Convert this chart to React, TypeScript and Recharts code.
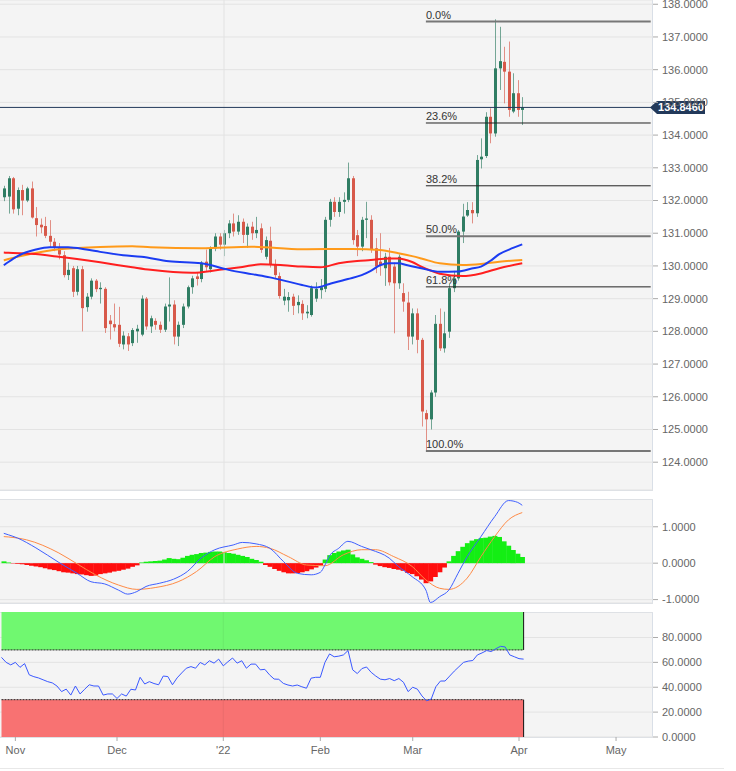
import React from "react";
import {
  ComposedChart,
  Bar,
  Line,
  XAxis,
  YAxis,
  CartesianGrid,
  ReferenceLine,
  ReferenceArea,
  Cell,
} from "recharts";

const FONT = '"Liberation Sans", Arial, sans-serif';

// trading sessions (weekdays) starting 2021-10-27, incl. empty future sessions
const firstSession = "2021-10-27";
const sessionCount = 142;

function weekdays(start: string, n: number): string[] {
  const out: string[] = [];
  const d = new Date(start + "T00:00:00Z");
  while (out.length < n) {
    const wd = d.getUTCDay();
    if (wd !== 0 && wd !== 6) out.push(d.toISOString().slice(0, 10));
    d.setUTCDate(d.getUTCDate() + 1);
  }
  return out;
}
const dates = weekdays(firstSession, sessionCount);

const monthTicks = ["2021-11-01", "2021-12-01", "2022-01-03", "2022-02-01", "2022-03-01", "2022-04-01", "2022-05-02"];
const monthLabels = ["Nov", "Dec", "'22", "Feb", "Mar", "Apr", "May"];

const priceTicks = [124, 125, 126, 127, 128, 129, 130, 131, 132, 133, 134, 135, 136, 137, 138];
const macdTicks = [-1, 0, 1];
const rsiTicks = [0, 20, 40, 60, 80];

// open, high, low, close
const ohlc: [number, number, number, number][] = [
  [132.1, 132.45, 131.98, 132.37], [132.12, 132.75, 131.6, 132.68], [132.68, 132.72, 131.6, 131.73],
  [131.75, 132.4, 131.55, 132.32], [132.32, 132.48, 131.55, 132.0], [132.0, 132.42, 131.95, 132.37],
  [132.37, 132.58, 131.45, 131.48], [131.46, 131.8, 130.9, 131.25], [131.26, 131.45, 131.0, 131.18],
  [131.22, 131.5, 130.85, 130.92], [130.92, 131.4, 130.55, 130.74], [130.74, 130.85, 130.45, 130.57],
  [130.57, 130.7, 130.2, 130.35], [130.33, 130.45, 129.65, 129.72], [129.72, 130.1, 129.57, 129.88],
  [129.93, 130.0, 129.05, 129.21], [129.21, 130.0, 129.1, 129.9], [129.9, 130.0, 128.0, 128.71],
  [128.74, 129.17, 128.6, 129.06], [129.06, 129.62, 128.98, 129.55], [129.55, 129.6, 129.2, 129.29],
  [129.29, 129.5, 128.85, 129.33], [129.3, 129.35, 127.95, 128.1], [128.33, 128.5, 127.75, 128.22],
  [128.22, 128.85, 128.0, 128.12], [128.2, 128.75, 127.52, 127.62], [127.6, 128.0, 127.45, 127.87],
  [127.85, 127.95, 127.4, 127.6], [127.64, 128.1, 127.55, 128.04], [128.0, 128.2, 127.65, 128.08],
  [127.9, 129.1, 127.85, 129.0], [129.0, 129.05, 128.05, 128.15], [128.15, 128.48, 127.95, 128.4],
  [128.32, 128.4, 128.05, 128.2], [128.2, 128.3, 127.95, 128.05], [128.05, 128.85, 127.98, 128.76],
  [128.76, 129.65, 128.3, 128.82], [128.82, 128.95, 127.6, 127.84], [127.84, 128.3, 127.55, 128.2],
  [128.2, 128.85, 128.1, 128.76], [128.76, 129.4, 128.7, 129.35], [129.35, 129.7, 129.15, 129.62],
  [129.68, 129.8, 129.4, 129.6], [129.6, 130.15, 129.5, 130.1], [130.13, 130.5, 129.85, 129.96],
  [129.9, 130.6, 129.8, 130.54], [130.54, 131.0, 130.45, 130.9], [130.9, 131.0, 130.5, 130.65],
  [130.65, 131.1, 130.3, 131.0], [131.0, 131.4, 130.85, 131.3], [131.3, 131.6, 130.9, 131.05],
  [131.05, 131.55, 130.95, 131.35], [131.35, 131.45, 130.7, 130.95], [130.95, 131.3, 130.55, 131.2],
  [131.2, 131.35, 130.8, 131.0], [131.0, 131.5, 130.85, 131.1], [131.15, 131.3, 130.4, 130.49],
  [130.28, 130.9, 130.2, 130.79], [130.77, 131.2, 129.95, 130.03], [130.03, 130.2, 129.6, 129.72],
  [129.69, 129.8, 129.0, 129.08], [128.94, 129.3, 128.8, 129.06], [128.95, 129.2, 128.6, 129.05],
  [129.06, 129.15, 128.5, 128.78], [128.8, 129.1, 128.55, 128.9], [128.84, 128.95, 128.35, 128.55],
  [128.55, 128.8, 128.4, 128.6], [128.5, 129.4, 128.45, 129.32], [129.0, 129.5, 128.9, 129.3],
  [129.26, 129.6, 129.0, 129.35], [129.3, 131.5, 129.2, 131.41], [131.41, 132.05, 131.2, 131.96],
  [131.96, 132.1, 131.5, 131.65], [131.65, 132.1, 131.5, 131.96], [131.96, 132.25, 131.6, 132.02],
  [132.02, 133.16, 131.95, 132.68], [132.68, 132.75, 130.65, 130.79], [130.94, 131.1, 130.3, 130.59],
  [130.59, 131.5, 130.45, 131.41], [131.41, 131.96, 130.85, 131.45], [131.41, 131.55, 130.4, 130.49],
  [130.54, 130.85, 129.78, 129.98], [130.13, 131.0, 129.7, 130.03], [129.93, 130.4, 129.39, 130.28],
  [130.28, 130.55, 129.4, 129.5], [129.98, 130.1, 127.94, 129.47], [129.47, 130.35, 129.3, 130.28],
  [129.17, 129.47, 128.6, 128.91], [128.88, 129.21, 127.43, 127.84], [127.84, 128.7, 127.6, 128.55],
  [128.55, 128.7, 127.33, 127.74], [127.74, 127.8, 125.09, 125.55], [125.5, 125.6, 124.34, 125.31],
  [125.31, 126.2, 125.0, 126.13], [126.13, 128.5, 126.0, 128.23], [128.23, 128.7, 127.4, 127.48],
  [127.48, 128.6, 127.35, 127.94], [127.99, 129.45, 127.8, 129.32], [129.32, 129.85, 129.2, 129.62],
  [129.62, 131.1, 129.55, 131.05], [131.05, 131.9, 130.7, 131.51], [131.54, 131.95, 131.5, 131.71],
  [131.71, 131.95, 131.3, 131.61], [131.61, 133.39, 131.5, 133.24], [133.26, 133.9, 132.98, 133.34],
  [133.36, 134.7, 133.3, 134.56], [134.56, 134.82, 133.75, 134.05], [134.05, 137.54, 133.95, 136.04],
  [136.04, 137.31, 135.38, 136.26], [136.24, 136.7, 134.97, 135.94], [135.94, 136.86, 134.56, 134.77],
  [134.72, 135.89, 134.67, 135.28], [135.28, 135.68, 134.56, 134.77], [134.77, 135.16, 134.31, 134.846],
];

const lastPrice = 134.846;

// moving averages, [session index, value]
const blueMa: [number, number][] = [
  [0, 130.02], [1, 130.12], [3, 130.3], [7, 130.5], [10, 130.57], [14, 130.57], [18, 130.5], [21, 130.43],
  [26, 130.33], [30, 130.28], [36, 130.14], [43, 130.08], [49, 129.88], [54, 129.75], [58, 129.65],
  [62, 129.52], [65, 129.42], [68, 129.34], [71, 129.45], [75, 129.6], [78, 129.72], [80, 129.85],
  [82, 130.02], [84, 130.08], [86, 130.08], [88, 130.02], [91, 129.93], [95, 129.82], [99, 129.83],
  [102, 129.92], [104, 129.98], [106, 130.15], [108, 130.36], [111, 130.55], [113, 130.66],
];
const redMa: [number, number][] = [
  [0, 130.41], [1, 130.4], [6, 130.37], [12, 130.28], [21, 130.11], [28, 129.96], [32, 129.88], [41, 129.79],
  [47, 129.88], [52, 129.97], [56, 130.05], [61, 130.02], [65, 129.98], [69, 129.96], [73, 130.08],
  [77, 130.15], [80, 130.18], [84, 130.23], [86, 130.23], [89, 130.12], [91, 129.98], [93, 129.86],
  [95, 129.76], [100, 129.69], [104, 129.77], [108, 129.93], [113, 130.08],
];
const orangeMa: [number, number][] = [
  [0, 130.17], [1, 130.21], [6, 130.37], [12, 130.51], [21, 130.58], [28, 130.6], [32, 130.57], [43, 130.54],
  [54, 130.59], [65, 130.51], [76, 130.52], [82, 130.49], [86, 130.39], [89, 130.3], [91, 130.23],
  [95, 130.08], [100, 130.03], [104, 130.06], [108, 130.13], [113, 130.18],
];

// fibonacci retracement of the 124.34 -> 137.47 swing
const fibLevels = [137.47, 134.37, 132.45, 130.905, 129.36, 124.34];
const fibNames = ["0.0%", "23.6%", "38.2%", "50.0%", "61.8%", "100.0%"];
const fibStartIndex = 92;

const macdLine: [number, number][] = [
  [0, 0.82], [1, 0.78], [3, 0.69], [7, 0.42], [12, 0.02], [16, -0.28], [19, -0.51], [22, -0.57], [25, -0.74],
  [27, -0.85], [29, -0.78], [31, -0.64], [34, -0.55], [37, -0.44], [40, -0.23], [43, 0.14], [46, 0.37],
  [50, 0.5], [52, 0.57], [55, 0.53], [58, 0.41], [61, 0.04], [64, -0.28], [67, -0.32], [69, -0.25],
  [70, -0.05], [71, 0.2], [73, 0.41], [75, 0.6], [78, 0.46], [80, 0.37], [84, 0.14], [86, -0.09],
  [89, -0.37], [92, -0.74], [93, -1.08], [95, -0.92], [97, -0.74], [99, -0.28], [101, 0.18],
  [104, 0.73], [107, 1.28], [110, 1.72], [112, 1.67], [113, 1.59],
];
const signalLine: [number, number][] = [
  [0, 0.73], [1, 0.72], [5, 0.64], [12, 0.28], [16, -0.02], [20, -0.32], [25, -0.6], [29, -0.72], [33, -0.67],
  [38, -0.51], [42, -0.23], [46, 0.18], [51, 0.39], [55, 0.46], [58, 0.41], [62, 0.18], [66, -0.05],
  [70, -0.07], [74, 0.23], [78, 0.37], [81, 0.37], [85, 0.18], [89, -0.09], [92, -0.46], [95, -0.69],
  [97, -0.72], [101, -0.41], [104, 0.18], [107, 0.73], [110, 1.19], [113, 1.39],
];
const macdHist = [
  0.05, 0.02, -0.01, -0.02, -0.03, -0.05, -0.07, -0.09, -0.11, -0.14,
  -0.17, -0.19, -0.22, -0.25, -0.26, -0.28, -0.3, -0.31, -0.33, -0.35,
  -0.34, -0.3, -0.28, -0.26, -0.23, -0.21, -0.18, -0.15, -0.1, -0.06,
  0.02, 0.04, 0.05, 0.06, 0.07, 0.1, 0.14, 0.12, 0.11, 0.15,
  0.2, 0.23, 0.25, 0.28, 0.29, 0.31, 0.32, 0.32, 0.3, 0.28,
  0.26, 0.23, 0.2, 0.17, 0.12, 0.09, 0.04, -0.05, -0.1, -0.16,
  -0.21, -0.25, -0.28, -0.28, -0.27, -0.25, -0.22, -0.17, -0.12, -0.06,
  0.1, 0.22, 0.28, 0.32, 0.35, 0.37, 0.24, 0.16, 0.12, 0.08,
  0.03, -0.04, -0.08, -0.11, -0.13, -0.16, -0.18, -0.21, -0.27, -0.3,
  -0.36, -0.45, -0.55, -0.5, -0.38, -0.25, -0.12, 0.05, 0.2, 0.33,
  0.45, 0.55, 0.62, 0.66, 0.69, 0.7, 0.73, 0.75, 0.72, 0.6,
  0.48, 0.36, 0.26, 0.17,
];

const rsi = [
  64, 60, 58, 60, 56, 59, 50, 48.5, 47.5, 46,
  44.5, 43.5, 41, 36.5, 38.5, 33.7, 41, 34.6, 38.4, 42,
  41, 41, 33.7, 34.6, 34.6, 31, 34.6, 32.9, 38.4, 37.8,
  48, 42.6, 44.5, 43, 42, 49, 48.6, 42, 47.5, 51.5,
  55.3, 56.6, 55.3, 59.9, 58, 61.3, 59.4, 62.6, 57.2, 60.5,
  63.5, 59.4, 61.3, 55.3, 58.6, 58.6, 54, 54.4, 50, 46.6,
  46.4, 43.1, 41.8, 41, 41.8, 40.4, 39.2, 47.3, 48, 48,
  60, 66.8, 64.5, 65, 66, 69.5, 54, 51, 55, 56.3,
  52, 49, 46.5, 46, 47, 45.3, 47, 44, 36.5, 40,
  38.5, 33, 29.1, 30.5, 40.4, 45, 45, 49, 53, 56.5,
  60, 61, 61.5, 66, 67.6, 69.5, 68.7, 71, 72.9, 72.4,
  66, 64.5, 63, 62.6,
];

const rows: any[] = dates.map((date, i) => {
  const row: any = { date };
  const c = ohlc[i];
  if (c) {
    row.o = c[0];
    row.h = c[1];
    row.l = c[2];
    row.c = c[3];
    row.range = [c[2], c[1]];
    row.hist = macdHist[i];
    row.rsi = rsi[i];
  }
  return row;
});
const put = (pts: [number, number][], key: string) => pts.forEach(([i, v]) => (rows[i][key] = v));
put(blueMa, "ma1");
put(redMa, "ma2");
put(orangeMa, "ma3");
put(macdLine, "macd");
put(signalLine, "signal");

const UP = "#2f7d63";
const DOWN = "#d7594a";

const Candle = (props: any) => {
  const { x, y, width, height, payload } = props;
  if (!payload || payload.o == null || !isFinite(y) || !isFinite(height)) return null;
  const { o, h, l, c } = payload;
  const top = Math.min(y, y + height);
  const full = Math.abs(height);
  const k = full / (h - l);
  const cx = Math.round(x + width / 2) + 0.5;
  const yo = top + (h - o) * k;
  const yc = top + (h - c) * k;
  const up = c >= o;
  const color = up ? UP : DOWN;
  return (
    <g>
      <line x1={cx} x2={cx} y1={top} y2={top + full} stroke={color} strokeOpacity={0.65} />
      <rect x={cx - 1.5} y={Math.min(yo, yc)} width={3} height={Math.max(Math.abs(yc - yo), 1)} fill={color} />
    </g>
  );
};

const FibLabel = (props: any) => {
  const { viewBox, text } = props;
  if (!viewBox) return null;
  return (
    <text x={viewBox.x} y={viewBox.y - 3} fontSize={11} fontFamily={FONT} fill="#333">
      {text}
    </text>
  );
};

const PriceTag = (props: any) => {
  const { viewBox } = props;
  if (!viewBox) return null;
  const x = viewBox.x + viewBox.width - 3;
  const y = viewBox.y;
  return (
    <g>
      <polygon
        points={`${x},${y} ${x + 7},${y - 6.5} ${x + 55},${y - 6.5} ${x + 55},${y + 6.5} ${x + 7},${y + 6.5}`}
        fill="#22395a"
      />
      <text x={x + 31} y={y + 4} textAnchor="middle" fontSize={11} fontWeight="bold" fontFamily={FONT} fill="#fff">
        {lastPrice.toFixed(4)}
      </text>
    </g>
  );
};

const Band = (props: any) => {
  const { x, y, width, height, color, edge } = props;
  if (!isFinite(x) || !isFinite(y)) return null;
  const ey = edge === "bottom" ? y + height : y;
  return (
    <g>
      <rect x={x} y={y} width={width} height={height} fill={color} />
      <line x1={x} x2={x + width} y1={ey} y2={ey} stroke="#222" strokeDasharray="2 1" />
      <line x1={x + width} x2={x + width} y1={y} y2={y + height} stroke="#111" />
    </g>
  );
};

const tickStyle = { fontSize: 11, fill: "#666", fontFamily: FONT };
const fmt4 = (v: number) => v.toFixed(4);
const xPad = { left: 1.5, right: 0 };
const yearStart = "2022-01-03";

const panel = (top: number, height: number): React.CSSProperties => ({
  position: "absolute",
  left: -1,
  top,
  width: 654,
  height,
  boxSizing: "border-box",
  border: "1px solid #d9dfe7",
  background: "#f4f4f4",
});

export default function App() {
  return (
    <div style={{ position: "relative", width: 736, height: 771, background: "#fff", overflow: "hidden", fontFamily: FONT }}>
      <style>{`body{margin:0}`}</style>
      <div style={panel(-1, 492)} />
      <div style={panel(499, 105)} />
      <div style={panel(612, 126)} />

      <div style={{ position: "absolute", left: 0, top: 0 }}>
        <ComposedChart width={736} height={496} data={rows} margin={{ top: 0, right: 0, bottom: 6, left: 0 }} barCategoryGap={0}>
          <CartesianGrid vertical={false} stroke="#e3e3e3" />
          <XAxis dataKey="date" hide padding={xPad} />
          <YAxis
            orientation="right"
            width={83}
            domain={[123.15, 138.13]}
            allowDataOverflow
            ticks={priceTicks}
            interval={0}
            tickFormatter={fmt4}
            tick={tickStyle}
            axisLine={false}
            tickLine={{ stroke: "#aaa" }}
            tickSize={5}
            tickMargin={4}
          />
          <ReferenceLine x={yearStart} stroke="#e2e2e2" />
          <Bar dataKey="range" shape={Candle} isAnimationActive={false} />
          <Line dataKey="ma3" type="monotone" stroke="#ff9a1a" strokeWidth={2} dot={false} activeDot={false} connectNulls isAnimationActive={false} />
          <Line dataKey="ma2" type="monotone" stroke="#ff1f1f" strokeWidth={2} dot={false} activeDot={false} connectNulls isAnimationActive={false} />
          <Line dataKey="ma1" type="monotone" stroke="#1b3cf2" strokeWidth={2} dot={false} activeDot={false} connectNulls isAnimationActive={false} />
          {fibLevels.map((v, k) => (
            <ReferenceLine
              key={fibNames[k]}
              segment={[
                { x: dates[fibStartIndex], y: v },
                { x: dates[dates.length - 1], y: v },
              ]}
              stroke={k === 0 || k === 3 || k === 5 ? "#777" : "#222"}
              strokeWidth={k === 0 || k === 3 || k === 5 ? 2 : 1}
              label={<FibLabel text={fibNames[k]} />}
            />
          ))}
          <ReferenceLine y={lastPrice} stroke="#22395a" label={<PriceTag />} />
        </ComposedChart>
      </div>

      <div style={{ position: "absolute", left: 0, top: 499 }}>
        <ComposedChart width={736} height={110} data={rows} margin={{ top: 0, right: 0, bottom: 6, left: 0 }} barCategoryGap={0}>
          <CartesianGrid vertical={false} stroke="#e3e3e3" />
          <XAxis dataKey="date" hide padding={xPad} />
          <YAxis
            orientation="right"
            width={83}
            domain={[-1.094, 1.763]}
            allowDataOverflow
            ticks={macdTicks}
            interval={0}
            tickFormatter={fmt4}
            tick={tickStyle}
            axisLine={false}
            tickLine={{ stroke: "#aaa" }}
            tickSize={5}
            tickMargin={4}
          />
          <ReferenceLine x={yearStart} stroke="#e2e2e2" />
          <Bar dataKey="hist" isAnimationActive={false}>
            {rows.map((r, i) => (
              <Cell key={i} fill={r.hist >= 0 ? "#14ee14" : "#ff0d0d"} />
            ))}
          </Bar>
          <Line dataKey="signal" type="monotone" stroke="#ff8a45" strokeWidth={1} dot={false} activeDot={false} connectNulls isAnimationActive={false} />
          <Line dataKey="macd" type="monotone" stroke="#4060ff" strokeWidth={1} dot={false} activeDot={false} connectNulls isAnimationActive={false} />
        </ComposedChart>
      </div>

      <div style={{ position: "absolute", left: 0, top: 612 }}>
        <ComposedChart width={736} height={155} data={rows} margin={{ top: 0, right: 0, bottom: 0, left: 0 }}>
          <CartesianGrid vertical={false} stroke="#e3e3e3" />
          <XAxis
            dataKey="date"
            padding={xPad}
            height={30}
            ticks={monthTicks}
            interval={0}
            tickFormatter={(d: string) => monthLabels[monthTicks.indexOf(d)] ?? ""}
            tick={tickStyle}
            axisLine={false}
            tickLine={{ stroke: "#aaa" }}
            tickSize={4}
            tickMargin={5}
          />
          <YAxis
            orientation="right"
            width={83}
            domain={[0, 100.5]}
            allowDataOverflow
            ticks={rsiTicks}
            interval={0}
            tickFormatter={fmt4}
            tick={tickStyle}
            axisLine={false}
            tickLine={{ stroke: "#aaa" }}
            tickSize={5}
            tickMargin={4}
          />
          <ReferenceArea x2={dates[ohlc.length - 1]} y1={70} y2={100.5} shape={<Band color="#70f870" edge="bottom" />} />
          <ReferenceArea x2={dates[ohlc.length - 1]} y1={0} y2={30} shape={<Band color="#f87272" edge="top" />} />
          <ReferenceLine x={yearStart} stroke="#000" strokeOpacity={0.06} />
          <Line dataKey="rsi" type="linear" stroke="#3a58ff" strokeWidth={1} dot={false} activeDot={false} isAnimationActive={false} />
        </ComposedChart>
      </div>

      <div style={{ position: "absolute", left: 0, top: 768, width: 724, height: 1, background: "#e8e8e8" }} />
    </div>
  );
}
